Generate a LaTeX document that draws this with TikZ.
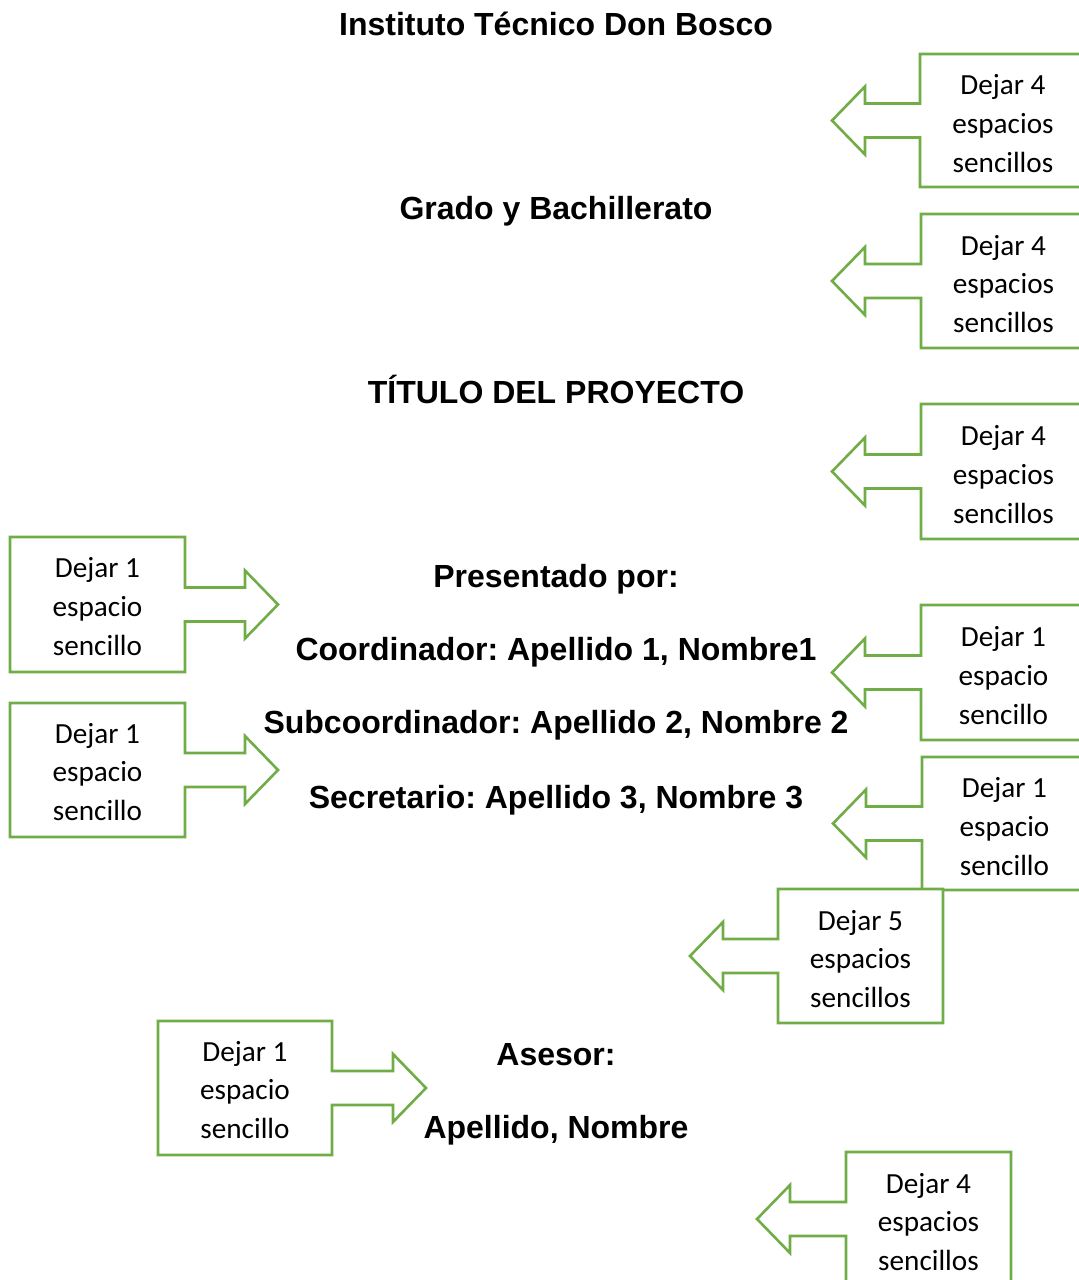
\documentclass[tikz,border=0pt]{standalone}
\usepackage{fontspec}
\setmainfont{Liberation Sans}
\newfontfamily\calibfont{Carlito}
\definecolor{callgreen}{HTML}{70AD47}
\frenchspacing
\tikzset{
  callshape/.style={draw=callgreen, line width=1.3pt, fill=white, line join=miter},
  calltext/.style={font=\calibfont\fontsize{14.6}{19.4}\selectfont, align=center, inner sep=0pt},
  heading/.style={font=\bfseries\fontsize{16}{19}\selectfont, anchor=base, inner sep=0pt}
}
% left-pointing arrow callout: name, L, R, T, B, tip x, text
\newcommand\callL[7]{%
  \pgfmathsetmacro\callcy{(#4+#5)/2}%
  \pgfmathsetmacro\callhb{#6+33}%
  \draw[callshape] (#2,#4) -- (#3,#4) -- (#3,#5) -- (#2,#5) -- (#2,\callcy+17)
    -- (\callhb,\callcy+17) -- (\callhb,\callcy+34) -- (#6,\callcy)
    -- (\callhb,\callcy-34) -- (\callhb,\callcy-17) -- (#2,\callcy-17) -- cycle;
  \node[calltext] (#1) at ({(#2+#3)/2},\callcy+3) {#7};
}
% right-pointing arrow callout: name, L, R, T, B, tip x, text
\newcommand\callR[7]{%
  \pgfmathsetmacro\callcy{(#4+#5)/2}%
  \pgfmathsetmacro\callhb{#6-33}%
  \draw[callshape] (#3,#4) -- (#2,#4) -- (#2,#5) -- (#3,#5) -- (#3,\callcy+17)
    -- (\callhb,\callcy+17) -- (\callhb,\callcy+34) -- (#6,\callcy)
    -- (\callhb,\callcy-34) -- (\callhb,\callcy-17) -- (#3,\callcy-17) -- cycle;
  \node[calltext] (#1) at ({(#2+#3)/2},\callcy+2) {#7};
}
\begin{document}
\begin{tikzpicture}[x=0.5pt,y=-0.5pt]
\useasboundingbox (0,0) rectangle (1078,1280);
% headings
\node[heading] (inst) at (556,35) {Instituto Técnico Don Bosco};
\node[heading] (grado) at (556,219) {Grado y Bachillerato};
\node[heading] (titulo) at (556,403) {TÍTULO DEL PROYECTO};
\node[heading] (pres) at (556,587) {Presentado por:};
\node[heading] (coord) at (556,660) {Coordinador: Apellido 1, Nombre1};
\node[heading] (sub) at (556,733) {Subcoordinador: Apellido 2, Nombre 2};
\node[heading] (secr) at (556,808) {Secretario: Apellido 3, Nombre 3};
\node[heading] (ases) at (556,1065) {Asesor:};
\node[heading] (apel) at (556,1138) {Apellido, Nombre};
% right side callouts
\callL{c1}{920}{1086}{54}{187}{832}{Dejar 4\\espacios\\sencillos}
\callL{c2}{921}{1086}{214}{348}{832}{Dejar 4\\espacios\\sencillos}
\callL{c3}{921}{1086}{404}{539}{832}{Dejar 4\\espacios\\sencillos}
\callL{c4}{921}{1086}{605}{740}{832}{Dejar 1\\espacio\\sencillo}
\callL{c5}{922}{1087}{757}{890}{833}{Dejar 1\\espacio\\sencillo}
\callL{c6}{778}{943}{889}{1023}{690}{Dejar 5\\espacios\\sencillos}
\callL{c7}{846}{1011}{1152}{1286}{757}{Dejar 4\\espacios\\sencillos}
% left side callouts
\callR{l1}{10}{185}{537}{672}{278}{Dejar 1\\espacio\\sencillo}
\callR{l2}{10}{185}{703}{837}{278}{Dejar 1\\espacio\\sencillo}
\callR{l3}{158}{332}{1021}{1155}{426}{Dejar 1\\espacio\\sencillo}
\end{tikzpicture}
\end{document}
